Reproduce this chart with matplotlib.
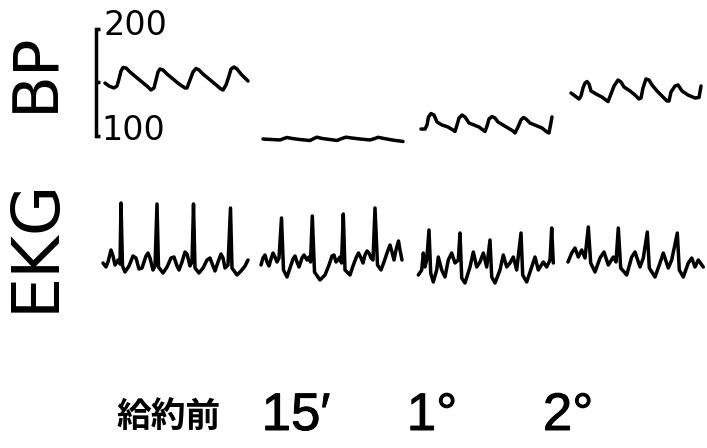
import matplotlib.pyplot as plt
import matplotlib.patheffects as pe

# blood pressure traces (mmHg) -- x is position along the recording
bp_pre_t = [105, 109, 114, 117, 119, 121, 123, 126, 130, 136, 142, 148, 151, 154, 156, 158, 160, 163, 167, 173,
            179, 185, 187, 190, 193, 196, 199, 203, 209, 215, 221, 223, 226, 229, 231, 234, 237, 241, 245, 248]
bp_pre = [149.5, 146.7, 144.9, 146.7, 153.3, 160.7, 164.0, 163.6, 159.8, 155.1, 150.5, 145.8, 143.0, 144.9, 152.3,
          159.8, 162.6, 161.7, 157.9, 153.3, 148.6, 144.9, 144.9, 152.3, 159.8, 163.1, 161.7, 157.9, 153.3, 148.6,
          143.9, 143.0, 147.7, 156.1, 162.6, 164.5, 162.6, 157.9, 154.2, 151.4]

bp_15m_t = [263, 272, 280, 284, 287, 292, 300, 310, 314, 317, 322, 330, 337, 342, 346, 352, 360, 370, 375, 378,
            384, 392, 403]
bp_15m = [97.2, 96.7, 96.3, 97.7, 98.6, 97.7, 96.7, 95.8, 97.7, 98.9, 97.7, 96.7, 95.8, 97.7, 98.9, 98.1, 97.2,
          96.3, 97.7, 98.8, 97.7, 96.3, 94.9]

bp_1h_t = [421, 425, 427, 428.5, 431, 434, 437, 442, 448, 453, 455, 457, 459, 462, 465, 469, 474, 479, 483, 485,
           487, 489, 492, 495, 498, 503, 508, 513, 515, 518, 521, 523.5, 526, 530, 536, 542, 547, 549, 550.5, 552]
bp_1h = [106.5, 106.5, 110.3, 117.8, 121.0, 119.6, 113.1, 110.3, 108.4, 105.6, 104.2, 110.3, 116.8, 119.6, 117.8,
         112.1, 110.3, 108.4, 105.6, 104.2, 109.3, 115.9, 118.2, 116.8, 113.1, 110.3, 107.5, 104.7, 102.8, 108.4,
         115.0, 117.3, 115.9, 112.1, 109.8, 107.5, 103.7, 102.8, 110.3, 117.8]

bp_2h_t = [571, 575, 579, 581, 583, 585, 587, 589, 591, 596, 602, 606, 608, 611, 614, 618, 621, 624, 630, 635,
           639, 641, 643, 646, 649, 652, 657, 662, 667, 669, 671, 675, 678, 682, 688, 695, 699, 701]
bp_2h = [140.2, 137.4, 134.6, 137.4, 144.9, 149.5, 150.9, 148.6, 142.1, 139.3, 136.4, 133.6, 132.2, 139.3, 146.7,
         152.3, 150.5, 145.8, 142.1, 138.3, 134.6, 135.5, 144.9, 153.3, 152.3, 147.7, 142.1, 137.4, 132.7, 132.7,
         141.1, 146.7, 147.7, 142.1, 138.3, 135.5, 136.0, 146.7]

# EKG traces (deflection, mm)
ekg_pre_t = [103, 106, 108, 111, 113, 115, 118, 120, 121, 122.5, 125, 129, 133, 136, 139, 142, 146, 148, 150, 153,
             155, 157, 158.5, 163, 167, 171, 174, 177, 179, 182, 185, 187, 190, 192, 193.5, 195, 199, 203, 207, 210,
             213, 215, 218, 221, 223, 225, 228, 230.5, 232, 237, 241, 245, 248]
ekg_pre = [0.7, 0.3, 0.8, 2.0, 1.4, 0.5, 1.0, 0.6, 6.7, 0.4, -0.2, 0.4, 1.4, 1.2, 0.1, 0.2, 1.4, 1.7, 1.2, 0.0,
           0.4, 6.6, 0.3, -0.3, 0.3, 1.2, 1.3, 0.4, 0.0, 0.8, 1.8, 1.6, 0.4, 0.8, 6.6, 0.2, -0.3, 0.2, 1.0, 1.2,
           0.4, -0.1, 0.8, 1.6, 1.2, 0.2, 0.5, 6.2, 0.2, -0.5, -0.1, 0.4, 1.0]

ekg_15m_t = [261, 263, 265, 267, 269, 271, 273, 275, 277, 279, 281.5, 283.5, 287, 290, 293, 295, 297, 299, 302, 304,
             307, 309, 310.5, 312.3, 314.5, 320, 325, 329, 332, 334, 336, 338, 340, 341.5, 343.3, 345, 350, 353, 356,
             358.5, 361, 363, 365, 367, 369, 371, 373, 375, 377.5, 381, 384, 387, 390, 392, 394, 396, 398.5, 400, 402]
ekg_15m = [0.5, 1.2, 1.5, 0.8, 0.4, 1.1, 1.7, 1.3, 0.8, 1.2, 5.2, 0.0, -0.7, 0.2, 1.1, 1.4, 0.8, 0.3, 1.2, 1.5,
           1.0, 1.3, 0.8, 5.4, -0.2, -1.0, -0.5, 0.5, 1.4, 1.5, 0.8, 1.0, 1.3, 0.7, 5.6, 0.0, -0.5, 0.4, 1.2,
           1.7, 1.2, 0.7, 1.5, 1.9, 1.7, 1.2, 1.0, 6.2, 0.5, 0.0, 0.8, 1.7, 2.5, 1.8, 1.0, 2.0, 2.9, 2.0, 1.0]

ekg_1h_t = [418.3, 421.7, 423.3, 425, 426.7, 429, 430.7, 433.3, 436.7, 438.3, 441.7, 445, 448.3, 451.7, 455, 458.3,
            460, 461.7, 465, 470, 473.3, 476.7, 480, 483.3, 486.7, 490, 491.7, 495, 500, 503.3, 506.7, 510, 513.3,
            516.7, 521, 522.7, 526.7, 531.7, 535, 538.3, 543.3, 546.7, 550, 551.7, 553.3]
ekg_1h = [-0.5, 0.0, 1.7, 0.3, 1.0, 4.0, -0.3, -1.2, 0.0, 1.3, 0.0, -0.7, 1.0, 1.7, 0.7, 1.0,
          3.7, -0.8, -1.3, 0.3, 1.8, 0.3, 0.8, 1.7, 0.3, 3.0, -0.7, -1.3, 0.0, 1.5, 0.3, 0.7, 1.3,
          0.0, 3.7, -0.5, -1.2, 0.3, 1.3, 0.0, 0.8, 0.3, 1.0, 4.2, 0.7]

ekg_2h_t = [568, 571.7, 575, 578.3, 581.7, 585, 588.3, 590.7, 595, 600, 604, 608.3, 613.3, 616, 618.3, 620.7, 626.7,
            631.7, 635, 640, 643.3, 647.3, 649.3, 655, 660, 663.3, 668.3, 671.7, 677.3, 679.3, 683.3, 688.3, 691.7,
            695, 698.3, 703.3]
ekg_2h = [0.8, 1.7, 2.2, 1.3, 2.0, 1.2, 4.3, 0.7, -0.2, 1.2, 1.8, 0.5, 1.3, 0.8, 4.2, 0.2, -0.5,
          1.3, 1.8, 0.3, 1.2, 3.8, 0.2, -0.7, 0.7, 1.7, 0.2, 1.0, 3.7, 0.0, -0.7, 0.7, 1.2,
          0.3, 1.0, 0.3]

bp_ticks = [200, 150, 100]
bp_tick_labels = ["200", "100"]
time_labels = ["給約前", "15′", "1°", "2°"]

W, H = 707, 448
fig = plt.figure(figsize=(W / 100, H / 100), dpi=100)
fig.patch.set_facecolor("white")

ax_bp = fig.add_axes([0, 0, 1, 1])
ax_bp.set_xlim(0, W)
ax_bp.set_ylim(200 - (H - 29) / 1.07, 200 + 29 / 1.07)
ax_bp.axis("off")

ax_ekg = fig.add_axes([0, 0, 1, 1])
ax_ekg.set_xlim(0, W)
ax_ekg.set_ylim((270 - H) / 10, 270 / 10)
ax_ekg.axis("off")

for t, v in [(bp_pre_t, bp_pre), (bp_15m_t, bp_15m), (bp_1h_t, bp_1h), (bp_2h_t, bp_2h)]:
    ax_bp.plot(t, v, color="black", lw=2.5, solid_joinstyle="round", solid_capstyle="round")
for t, v in [(ekg_pre_t, ekg_pre), (ekg_15m_t, ekg_15m), (ekg_1h_t, ekg_1h), (ekg_2h_t, ekg_2h)]:
    ax_ekg.plot(t, v, color="black", lw=2.5, solid_joinstyle="round", solid_capstyle="round")

# scale bracket
ax_bp.plot([96, 96], [bp_ticks[0], bp_ticks[-1]], color="black", lw=2.5)
for b in bp_ticks:
    ax_bp.plot([96, 100], [b, b], color="black", lw=2.5, solid_capstyle="butt")
ax_bp.text(103, bp_ticks[0] + 3, bp_tick_labels[0], fontsize=24, family="DejaVu Sans", va="center", ha="left")
ax_bp.text(101, bp_ticks[-1] + 5, bp_tick_labels[1], fontsize=24, family="DejaVu Sans", va="center", ha="left")


def px(x, y):
    return x / W, 1 - y / H


fig.text(*px(36, 72), "BP", rotation=90, fontsize=45, family="DejaVu Sans", ha="center", va="center")
fig.text(*px(36, 245), "EKG", rotation=90, fontsize=47, family="DejaVu Sans", ha="center", va="center")

fig.text(*px(169, 416), time_labels[0], fontsize=25, family=["Noto Sans CJK JP", "DejaVu Sans"],
         weight="bold", ha="center", va="center")
thick = [pe.withStroke(linewidth=0.7, foreground="black")]
for x, lab in zip([296, 432, 568], time_labels[1:]):
    fig.text(*px(x, 416), lab, fontsize=38, family=["Liberation Sans", "DejaVu Sans"],
             ha="center", va="center", path_effects=thick)

fig.savefig("out.png", dpi=100, facecolor="white")
